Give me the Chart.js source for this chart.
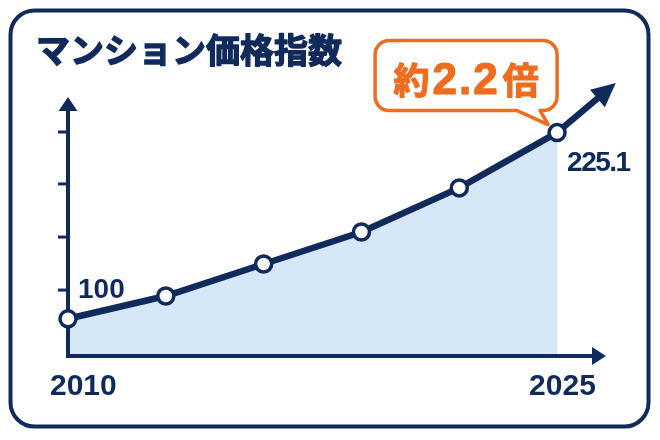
<!DOCTYPE html>
<html lang="ja">
<head>
<meta charset="utf-8">
<title>マンション価格指数</title>
<script src="https://cdn.jsdelivr.net/npm/chart.js@4.4.1/dist/chart.umd.min.js"></script>
<style>
    html, body { margin: 0; padding: 0; background: #fff; }
    .chart_div { width: 660px; height: 440px; }
</style>
</head>
<body>
<div class="chart_div"><canvas id="myChart" width="660" height="440"></canvas></div>
<script>
// data
const titleText = "マンション価格指数";
const years = [2010, 2013, 2016, 2019, 2022, 2025];
const priceIndex = [100, 115.3, 136.8, 158.3, 187.9, 225.1];
const yTicks = [119.3, 154.9, 190.6, 225.5];
const yearLabels = ["2010", "2025"];
const calloutParts = ["約", "2.2", "倍"];
const arrowTip = { x: 2026.8, y: 258.4 };

const navy = "#112a5c";
const orange = "#ef6c1e";
const fillBlue = "#d6e7f8";
const jpFont = '"Noto Sans CJK JP", "Noto Sans", sans-serif';
const numFont = '"Liberation Sans", Arial, sans-serif';

function arrowHead(ctx, x, y, angle, len, half) {
    ctx.save();
    ctx.translate(x, y);
    ctx.rotate(angle);
    ctx.beginPath();
    ctx.moveTo(0, 0);
    ctx.lineTo(-len, -half);
    ctx.lineTo(-len, half);
    ctx.closePath();
    ctx.fill();
    ctx.restore();
}

// heavy text: fill plus a thin stroke in the same colour
function heavyText(ctx, text, x, y, extra) {
    ctx.lineWidth = extra;
    ctx.lineJoin = 'round';
    ctx.strokeStyle = ctx.fillStyle;
    ctx.strokeText(text, x, y);
    ctx.fillText(text, x, y);
}

const decorPlugin = {
    id: 'decor',
    beforeDraw(chart) {
        const ctx = chart.ctx;
        ctx.save();
        ctx.fillStyle = '#fff';
        ctx.fillRect(0, 0, chart.width, chart.height);
        // card border
        ctx.strokeStyle = navy;
        ctx.lineWidth = 4;
        ctx.beginPath();
        ctx.roundRect(10.5, 10.5, 638, 416, 24);
        ctx.stroke();
        // title
        ctx.fillStyle = navy;
        ctx.font = 'bold 34px ' + jpFont;
        ctx.textBaseline = 'alphabetic';
        heavyText(ctx, titleText, 36, 63, 1.4);
        ctx.restore();
    },
    beforeDatasetsDraw(chart) {
        const ctx = chart.ctx;
        const area = chart.chartArea;
        const xs = chart.scales.x;
        const ys = chart.scales.y;
        ctx.save();
        ctx.strokeStyle = navy;
        ctx.fillStyle = navy;
        ctx.lineWidth = 4;
        ctx.lineCap = 'butt';

        // axes with arrows
        ctx.beginPath();
        ctx.moveTo(area.left, area.top + 12);
        ctx.lineTo(area.left, area.bottom);
        ctx.lineTo(area.right - 12, area.bottom);
        ctx.stroke();
        arrowHead(ctx, area.left, area.top, -Math.PI / 2, 14, 9.5);
        arrowHead(ctx, area.right, area.bottom, 0, 14, 9);

        // y ticks
        ctx.lineWidth = 3;
        yTicks.forEach(v => {
            const py = ys.getPixelForValue(v);
            ctx.beginPath();
            ctx.moveTo(area.left - 10, py);
            ctx.lineTo(area.left, py);
            ctx.stroke();
        });

        // line continues past 2025 with an arrow
        const last = chart.getDatasetMeta(0).data[years.length - 1];
        const tx = xs.getPixelForValue(arrowTip.x);
        const ty = ys.getPixelForValue(arrowTip.y);
        const ang = Math.atan2(ty - last.y, tx - last.x);
        ctx.lineWidth = 6.5;
        ctx.beginPath();
        ctx.moveTo(last.x, last.y);
        ctx.lineTo(tx - Math.cos(ang) * 18, ty - Math.sin(ang) * 18);
        ctx.stroke();
        arrowHead(ctx, tx, ty, ang, 24, 11.5);

        // callout bubble
        const right = last.x, bottom = last.y - 22;
        const left = last.x - 182, top = last.y - 92;
        const r = 14;
        ctx.beginPath();
        ctx.moveTo(left + r, top);
        ctx.arcTo(right, top, right, bottom, r);
        ctx.arcTo(right, bottom, left, bottom, r);
        ctx.lineTo(last.x - 17, bottom);
        ctx.lineTo(last.x - 9, last.y - 8);
        ctx.lineTo(last.x - 40, bottom);
        ctx.arcTo(left, bottom, left, top, r);
        ctx.arcTo(left, top, right, top, r);
        ctx.closePath();
        ctx.fillStyle = '#fff';
        ctx.fill();
        ctx.strokeStyle = orange;
        ctx.lineWidth = 3.5;
        ctx.lineJoin = 'round';
        ctx.stroke();

        // callout text
        const fonts = ['bold 36px ' + jpFont, 'bold 44px ' + numFont, 'bold 36px ' + jpFont];
        const spacing = ['0px', '2px', '0px'];
        let widths = calloutParts.map((t, i) => {
            ctx.font = fonts[i];
            ctx.letterSpacing = spacing[i];
            return ctx.measureText(t).width;
        });
        const gap = 3;
        const total = widths.reduce((a, b) => a + b, 0) + gap * 2;
        let x = (left + right) / 2 - total / 2;
        ctx.fillStyle = orange;
        ctx.textBaseline = 'alphabetic';
        calloutParts.forEach((t, i) => {
            ctx.font = fonts[i];
            ctx.letterSpacing = spacing[i];
            heavyText(ctx, t, x, bottom - 17, 1.2);
            x += widths[i] + gap;
        });
        ctx.letterSpacing = '0px';
        ctx.restore();
    },
    afterDatasetsDraw(chart) {
        const ctx = chart.ctx;
        const pts = chart.getDatasetMeta(0).data;
        const first = pts[0];
        const last = pts[pts.length - 1];
        const area = chart.chartArea;
        ctx.save();
        ctx.fillStyle = navy;
        ctx.textBaseline = 'alphabetic';
        ctx.textAlign = 'left';

        ctx.font = 'bold 28px ' + numFont;
        ctx.fillText(String(priceIndex[0]), first.x + 10, first.y - 21);
        ctx.letterSpacing = '-1.5px';
        ctx.fillText(String(priceIndex[priceIndex.length - 1]), last.x + 10, last.y + 38);
        ctx.letterSpacing = '0px';

        ctx.font = 'bold 30px ' + numFont;
        ctx.fillText(yearLabels[0], first.x - 18, area.bottom + 39);
        ctx.fillText(yearLabels[1], last.x - 28, area.bottom + 39);
        ctx.restore();
    }
};

const ctx = document.getElementById('myChart');
const chart = new Chart(ctx, {
    type: 'line',
    data: {
        datasets: [{
            label: titleText,
            data: years.map((yr, i) => ({ x: yr, y: priceIndex[i] })),
            borderColor: navy,
            borderWidth: 6.5,
            backgroundColor: fillBlue,
            fill: 'start',
            tension: 0,
            pointRadius: 8,
            pointBorderWidth: 3.5,
            pointBackgroundColor: '#fff',
            pointBorderColor: navy,
            clip: false
        }]
    },
    options: {
        responsive: false,
        animation: false,
        devicePixelRatio: 1,
        layout: {
            padding: { left: 68, right: 54, top: 97, bottom: 84 }
        },
        scales: {
            x: { type: 'linear', min: 2010, max: 2026.5, display: false },
            y: { min: 75, max: 249, display: false }
        },
        plugins: {
            legend: { display: false },
            tooltip: { enabled: false },
            filler: { drawTime: 'beforeDatasetsDraw' }
        }
    },
    plugins: [decorPlugin]
});
</script>
</body>
</html>
